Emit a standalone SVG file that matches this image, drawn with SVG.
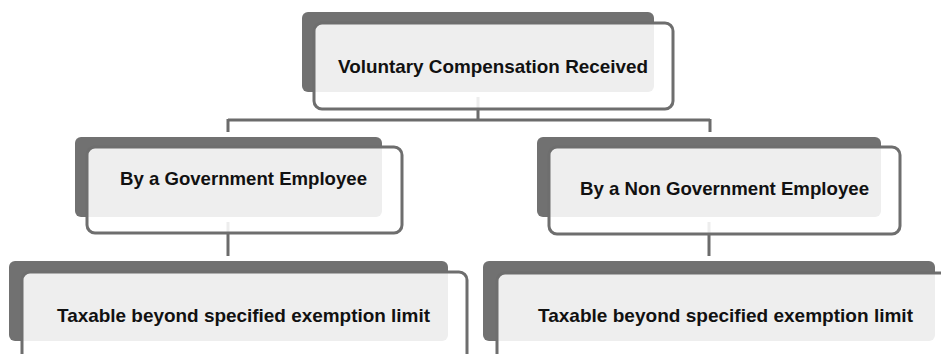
<svg xmlns="http://www.w3.org/2000/svg" width="941" height="354" viewBox="0 0 941 354">
  <style>
    .back { fill: #717171; }
    .front { fill: #ffffff; fill-opacity: 0.88; stroke: #6e6e6e; stroke-width: 3; }
    .label { font-family: "Liberation Sans", Arial, sans-serif; font-weight: bold; font-size: 19px; fill: #111111; }
    .link { fill: none; stroke: #6b6b6b; stroke-width: 3; }
  </style>
  <rect width="941" height="354" fill="#ffffff"/>

  <!-- connectors sit beneath the nodes so the translucent fronts soften them -->
  <g id="connectors">
    <path class="link" d="M478 97 V120 M228 120 H710 M228 119 V132 M710 119 V132"/>
    <path class="link" d="M228 222 V256"/>
    <path class="link" d="M709 222 V256"/>
  </g>

  <g id="node-root">
    <rect class="back" x="302" y="12" width="352" height="80" rx="6"/>
    <rect class="front" x="314" y="23" width="359" height="86" rx="8"/>
    <text class="label" x="338" y="73" textLength="310" lengthAdjust="spacingAndGlyphs">Voluntary Compensation Received</text>
  </g>

  <g id="node-government">
    <rect class="back" x="75" y="137" width="307" height="80" rx="6"/>
    <rect class="front" x="87" y="147" width="315" height="86" rx="8"/>
    <text class="label" x="120" y="185" textLength="247" lengthAdjust="spacingAndGlyphs">By a Government Employee</text>
  </g>

  <g id="node-non-government">
    <rect class="back" x="537" y="137" width="344" height="80" rx="6"/>
    <rect class="front" x="549" y="147" width="351" height="87" rx="8"/>
    <text class="label" x="580" y="195" textLength="289" lengthAdjust="spacingAndGlyphs">By a Non Government Employee</text>
  </g>

  <g id="node-taxable-left">
    <rect class="back" x="9" y="261" width="439" height="80" rx="6"/>
    <rect class="front" x="22" y="272" width="445" height="90" rx="8"/>
    <text class="label" x="57" y="322" textLength="373" lengthAdjust="spacingAndGlyphs">Taxable beyond specified exemption limit</text>
  </g>

  <g id="node-taxable-right">
    <rect class="back" x="483" y="261" width="452" height="80" rx="6"/>
    <rect class="front" x="497" y="273" width="460" height="90" rx="8"/>
    <text class="label" x="538" y="322" textLength="375" lengthAdjust="spacingAndGlyphs">Taxable beyond specified exemption limit</text>
  </g>
</svg>
